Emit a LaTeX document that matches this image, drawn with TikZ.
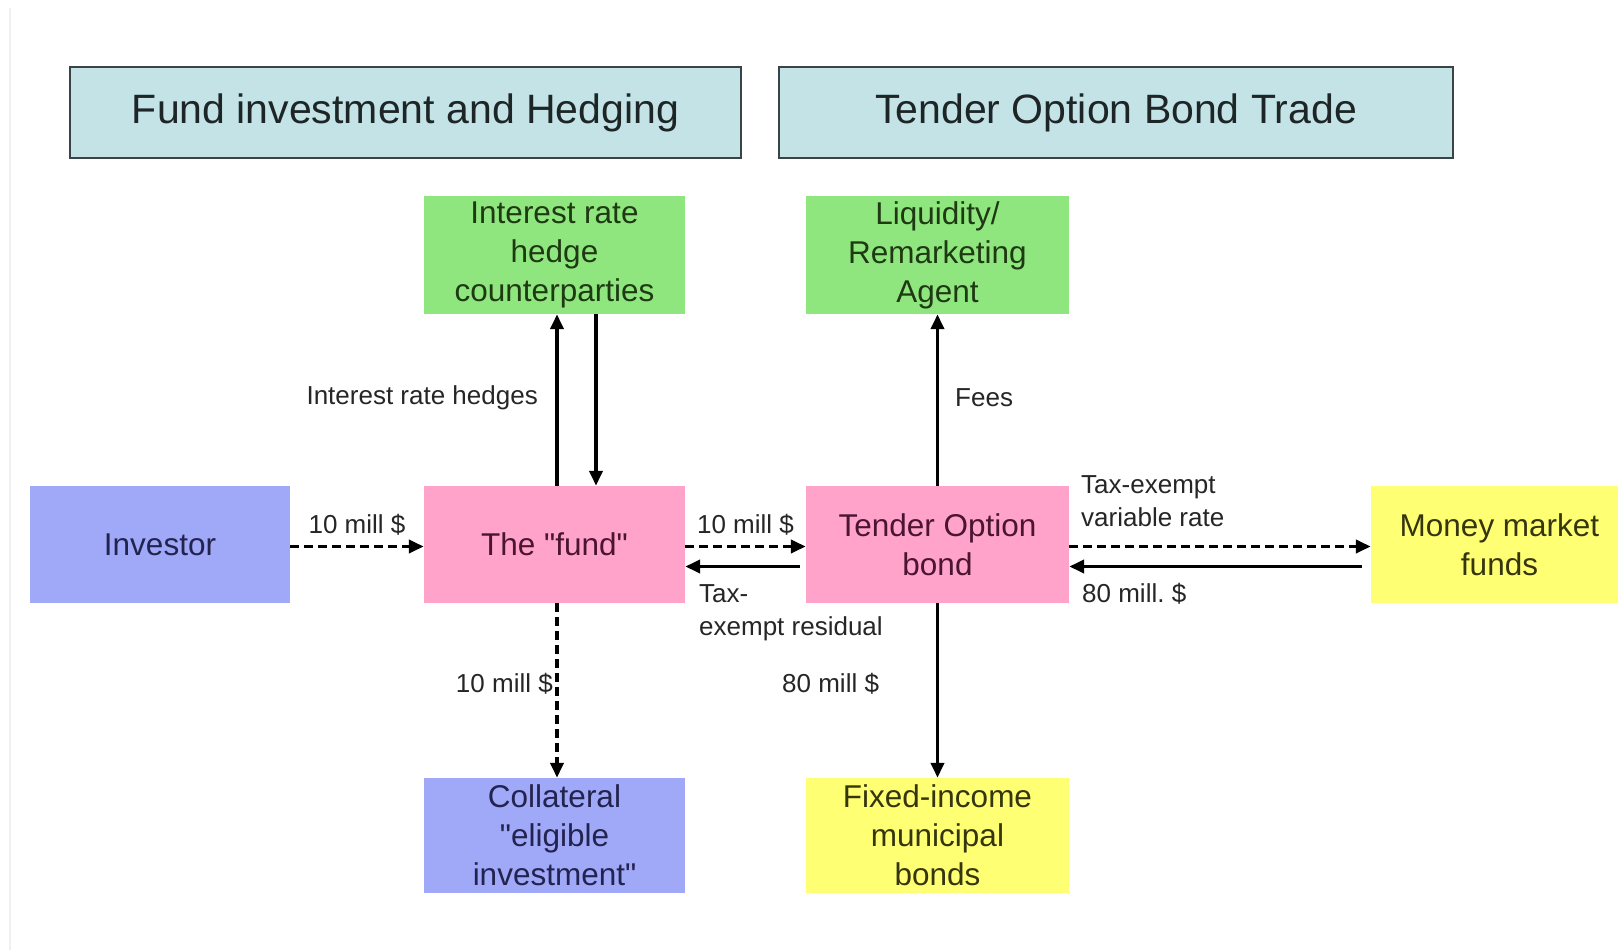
\documentclass[tikz,border=0pt]{standalone}
\usepackage{fontspec}
\setmainfont{Liberation Sans}
\usetikzlibrary{arrows.meta}
\frenchspacing
\definecolor{hdrfill}{HTML}{C3E3E6}
\definecolor{hdrline}{HTML}{3A4446}
\definecolor{grn}{HTML}{90E67E}
\definecolor{blu}{HTML}{A0A8F8}
\definecolor{pnk}{HTML}{FFA3CB}
\definecolor{ylw}{HTML}{FFFF73}
\definecolor{txtblu}{HTML}{23234F}
\definecolor{txtpnk}{HTML}{4A1432}
\definecolor{txtgrn}{HTML}{1E3A12}
\definecolor{txtylw}{HTML}{35350E}
\definecolor{txthdr}{HTML}{1E2526}
\tikzset{
  hdrbox/.style={draw=hdrline, line width=2.2pt, fill=hdrfill, text=txthdr,
    font=\fontsize{41}{48}\selectfont, inner sep=0pt},
  ebox/.style={inner sep=0pt, align=center, font=\fontsize{31.5}{39}\selectfont},
  grnbox/.style={ebox, fill=grn, text=txtgrn},
  blubox/.style={ebox, fill=blu, text=txtblu},
  pnkbox/.style={ebox, fill=pnk, text=txtpnk},
  ylwbox/.style={ebox, fill=ylw, text=txtylw},
  lbl/.style={font=\fontsize{26}{33}\selectfont, text=black!85, inner sep=0pt, align=left},
  flow/.style={line width=3.8pt, -{Triangle[length=15pt,width=13pt]}},
  dflow/.style={flow, dash pattern=on 9pt off 5pt},
}
\begin{document}
\begin{tikzpicture}[x=1pt,y=-1pt]
\useasboundingbox[fill=white] (0,0) rectangle (1618,950);
\draw[gray!12, line width=1.5pt] (10,8) -- (10,950);
% headers
\node[hdrbox, minimum width=671pt, minimum height=91pt] (h1) at (405.5,112.5) {Fund investment and Hedging};
\node[hdrbox, minimum width=674pt, minimum height=91pt] (h2) at (1116,112.5) {Tender Option Bond Trade};
% boxes
\node[grnbox, minimum width=261pt, minimum height=118pt] (irh) at (554.5,255) {Interest rate\\hedge\\counterparties};
\node[grnbox, minimum width=263pt, minimum height=118pt] (liq) at (937.5,255) {Liquidity/\\Remarketing\\Agent};
\node[blubox, minimum width=260pt, minimum height=117pt] (inv) at (160,544.5) {Investor};
\node[pnkbox, minimum width=261pt, minimum height=117pt] (fund) at (554.5,544.5) {The \textquotedbl fund\textquotedbl};
\node[pnkbox, minimum width=263pt, minimum height=117pt] (tob) at (937.5,544.5) {Tender Option\\bond};
\node[ylwbox, minimum width=247pt, minimum height=117pt] (mmf) at (1494.5,544.5) {\hspace*{10pt}Money market\\\hspace*{10pt}funds};
\node[blubox, minimum width=261pt, minimum height=115pt] (coll) at (554.5,835.5) {Collateral\\\textquotedbl eligible\\investment\textquotedbl};
\node[ylwbox, minimum width=263pt, minimum height=115pt] (fib) at (937.5,835.5) {Fixed-income\\municipal\\bonds};
% horizontal flows
\draw[dflow] ([yshift=-2pt]inv.east) -- node[lbl, above=9pt] (l1) {10 mill \$} ([yshift=-2pt]fund.west);
\draw[dflow] ([yshift=-2pt]fund.east) -- node[lbl, above=9pt] (l2) {10 mill \$} ([yshift=-2pt]tob.west);
\draw[flow] ([xshift=-6pt,yshift=-22pt]tob.west) -- ([yshift=-22pt]fund.east);
\draw[dflow] ([yshift=-2pt]tob.east) -- ([yshift=-2pt]mmf.west);
\draw[flow] ([xshift=-9pt,yshift=-22pt]mmf.west) -- ([yshift=-22pt]tob.east);
% vertical flows
\draw[flow] ([xshift=2.5pt]fund.north) -- ([xshift=2.5pt]irh.south);
\draw[flow] ([xshift=41.5pt]irh.south) -- ([xshift=41.5pt]fund.north);
\draw[flow] (tob.north) -- (liq.south);
\draw[dflow] ([xshift=2.5pt]fund.south) -- ([xshift=2.5pt]coll.north);
\draw[flow] (tob.south) -- (fib.north);
% labels
\node[lbl, anchor=north west] (l3) at (699,584) {Tax-\\exempt residual};
\node[lbl, anchor=north west] (l4) at (1081,475) {Tax-exempt\\variable rate};
\node[lbl, anchor=west] (l5) at (1082,594) {80 mill. \$};
\node[lbl, anchor=east] (l6) at (538,398) {Interest rate hedges};
\node[lbl, anchor=west] (l7) at (955,398) {Fees};
\node[lbl, anchor=east] (l8) at (553,684) {10 mill \$};
\node[lbl, anchor=west] (l9) at (782,684) {80 mill \$};
\end{tikzpicture}
\end{document}
